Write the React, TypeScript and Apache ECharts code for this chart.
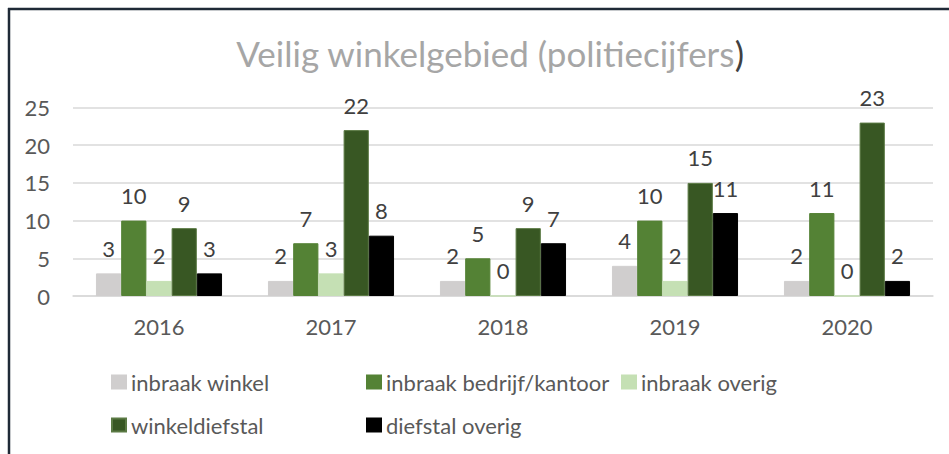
import React, { useEffect, useRef } from "react";
import * as echarts from "echarts";

const categories = ["2016", "2017", "2018", "2019", "2020"];
const seriesNames = [
  "inbraak winkel",
  "inbraak bedrijf/kantoor",
  "inbraak overig",
  "winkeldiefstal",
  "diefstal overig",
];
const inbraakWinkel = [3, 2, 2, 4, 2];
const inbraakBedrijf = [10, 7, 5, 10, 11];
const inbraakOverig = [2, 3, 0, 2, 0];
const winkeldiefstal = [9, 22, 9, 15, 23];
const diefstalOverig = [3, 8, 7, 11, 2];
const seriesValues = [inbraakWinkel, inbraakBedrijf, inbraakOverig, winkeldiefstal, diefstalOverig];
const colors = ["#d0cece", "#548235", "#c5e0b4", "#385723", "#000000"];
const borderColors = ["#d0cece", "#548235", "#c5e0b4", "#5b7a44", "#000000"];

const FONT = "Lato";
const FS = 22;

const legendPos = [
  { left: 111, top: 369 },
  { left: 366, top: 369 },
  { left: 621, top: 369 },
  { left: 111, top: 412 },
  { left: 366, top: 412 },
];

export default function App() {
  const ref = useRef<HTMLDivElement>(null);
  useEffect(() => {
    if (!ref.current) return;
    const chart = echarts.init(ref.current, null, { renderer: "svg" });
    chart.setOption({
      animation: false,
      backgroundColor: "#ffffff",
      textStyle: { fontFamily: FONT },
      title: {
        text: "{a|Veilig winkelgebied (politiecijfers}{b|)}",
        left: 485,
        textAlign: "center",
        top: 30,
        textStyle: {
          fontWeight: "normal",
          rich: {
            a: { fontFamily: FONT, fontSize: 35, fontWeight: "normal", color: "#a6a6a6" },
            b: { fontFamily: FONT, fontSize: 35, fontWeight: "normal", color: "#404040" },
          },
        },
      },
      legend: seriesNames.map((n, i) => ({
        data: [n],
        left: legendPos[i].left,
        top: legendPos[i].top,
        padding: 0,
        itemWidth: 14,
        itemHeight: 13,
        icon: "rect",
        selectedMode: false,
        textStyle: { fontFamily: FONT, fontSize: FS, color: "#595959", lineHeight: 26 },
      })),
      grid: { left: 73, right: 16, top: 107.5, bottom: 158, containLabel: false },
      xAxis: {
        type: "category",
        data: categories,
        axisTick: { show: false },
        axisLine: { lineStyle: { color: "#d9d9d9", width: 1.5 } },
        axisLabel: { fontFamily: FONT, fontSize: FS, color: "#595959", margin: 19 },
      },
      yAxis: {
        type: "value",
        min: 0,
        max: 25,
        interval: 5,
        axisLine: { show: false },
        axisTick: { show: false },
        splitLine: { lineStyle: { color: "#d9d9d9", width: 1.5 } },
        axisLabel: { fontFamily: FONT, fontSize: FS, color: "#595959", margin: 23 },
      },
      series: seriesNames.map((n, i) => ({
        name: n,
        type: "bar",
        data: seriesValues[i],
        barGap: "0%",
        barCategoryGap: "26.7%",
        itemStyle: { color: colors[i], borderColor: borderColors[i], borderWidth: 1 },
        label: {
          show: true,
          position: "top",
          distance: 14,
          fontFamily: FONT,
          fontSize: FS,
          color: "#404040",
        },
      })),
      graphic: [
        {
          type: "line",
          shape: { x1: 9, y1: 8, x2: 9, y2: 454 },
          style: { stroke: "#1f2a37", lineWidth: 2.5 },
        },
        {
          type: "line",
          shape: { x1: 8, y1: 9, x2: 949, y2: 9 },
          style: { stroke: "#1f2a37", lineWidth: 2.5 },
        },
      ],
    });
    return () => chart.dispose();
  }, []);
  return (
    <div
      ref={ref}
      style={{ position: "absolute", left: 0, top: 0, width: 949, height: 454 }}
    />
  );
}
